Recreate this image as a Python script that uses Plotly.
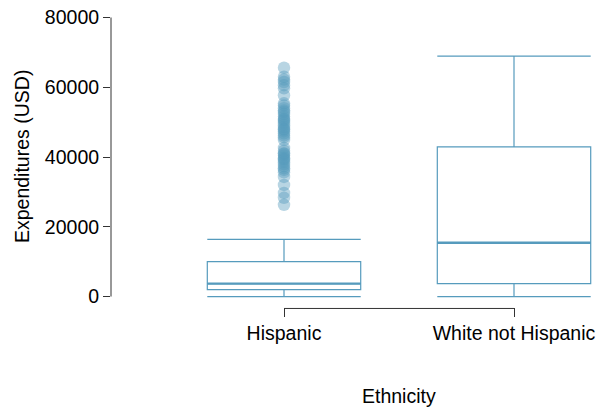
import plotly.graph_objects as go

categories = ["Hispanic", "White not Hispanic"]
q1 = [2000, 3700]
median = [3700, 15400]
q3 = [10000, 42900]
lower_whisker = [0, 0]
upper_whisker = [16400, 68900]
hispanic_outliers = [65600, 63000, 62200, 61500, 60600, 59700, 57700, 55400, 54800, 54000,
                     52900, 52300, 51600, 51000, 50400, 49800, 49200, 48600, 48000, 47400,
                     46800, 46200, 45700, 44900, 42600, 41800, 41000, 40400, 39800, 39200,
                     38600, 38000, 37400, 36800, 36300, 35600, 34300, 32000, 29700, 28300,
                     26300, 50700, 47900, 39500, 40900, 53300]
y_ticks = [0, 20000, 40000, 60000, 80000]

COL = "#569BBD"
FONT = "Liberation Sans, Arial, sans-serif"
FS = 19.5

fig = go.Figure()
fig.add_trace(go.Box(
    x=[0, 1], q1=q1, median=median, q3=q3,
    lowerfence=lower_whisker, upperfence=upper_whisker,
    width=0.667, whiskerwidth=1, fillcolor="rgba(0,0,0,0)",
    line=dict(color=COL, width=1.2), boxpoints=False, showlegend=False,
    hoverinfo="skip"))
# thicker median segments
for i, m in enumerate(median):
    fig.add_trace(go.Scatter(x=[i - 0.3335, i + 0.3335], y=[m, m], mode="lines",
                             line=dict(color=COL, width=2.4), showlegend=False,
                             hoverinfo="skip"))
fig.add_trace(go.Scatter(
    x=[0] * len(hispanic_outliers), y=hispanic_outliers, mode="markers",
    marker=dict(size=12.5, color=COL, opacity=0.42, line=dict(width=0)),
    showlegend=False, hoverinfo="skip"))

fig.add_shape(type="line", xref="paper", yref="y", x0=0, x1=0, y0=0, y1=80000,
              line=dict(color="#333", width=1))
fig.add_shape(type="line", xref="x", yref="paper", x0=0, x1=1, y0=-0.005, y1=-0.005,
              line=dict(color="#333", width=1))

fig.add_annotation(text="Expenditures (USD)", xref="paper", yref="y", x=-0.182, y=40000,
                   textangle=-90, showarrow=False, font=dict(family=FONT, size=FS, color="black"),
                   xanchor="center", yanchor="middle")
fig.add_annotation(text="Ethnicity", xref="x", yref="paper", x=0.5, y=-0.304,
                   showarrow=False, font=dict(family=FONT, size=FS, color="black"),
                   xanchor="center", yanchor="middle")

fig.update_layout(
    width=601, height=409,
    margin=dict(l=111, r=1, t=13.5, b=101.5, autoexpand=False),
    plot_bgcolor="white", paper_bgcolor="white",
    font=dict(family=FONT, size=FS, color="black"),
    xaxis=dict(range=[-0.7522, 1.3739], tickvals=[0, 1], ticktext=categories,
               ticks="outside", ticklen=9, tickcolor="#333", showline=False,
               showgrid=False, zeroline=False, automargin=False),
    yaxis=dict(range=[-3000, 81000], tickvals=y_ticks, ticktext=[str(v) for v in y_ticks],
               ticks="outside", ticklen=7, tickcolor="#333", showline=False,
               showgrid=False, zeroline=False, automargin=False),
)
fig.write_html("out.html", config={"displayModeBar": False},
               post_script="document.body.style.margin='0';document.body.style.overflow='hidden';")
